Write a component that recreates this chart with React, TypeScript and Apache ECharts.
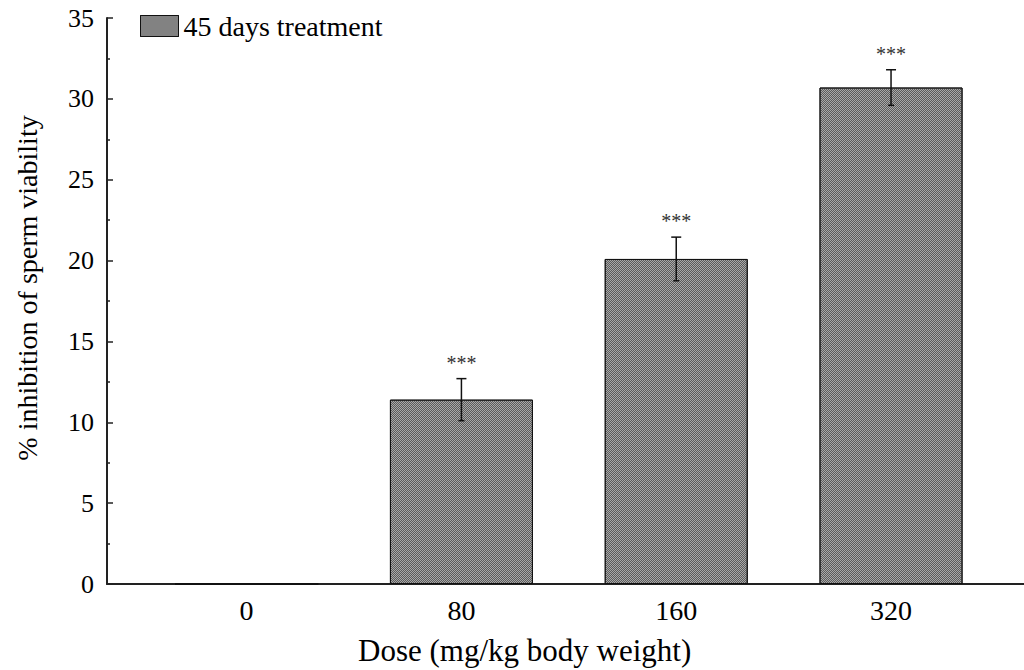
import React, { useEffect, useRef } from "react";
import * as echarts from "echarts";

const doseLabels = ["0", "80", "160", "320"];
const inhibitionMeans = [0, 11.4, 20.1, 30.7];
const inhibitionErrors = [0, 1.3, 1.35, 1.1];
const significance = ["", "***", "***", "***"];
const yTicks = [0, 5, 10, 15, 20, 25, 30, 35];
const seriesName = "45 days treatment";
const xAxisTitle = "Dose (mg/kg body weight)";
const yAxisTitle = "% inhibition of sperm viability";

const FONT = "'Liberation Serif', 'Times New Roman', serif";

export default function App() {
  const ref = useRef<HTMLDivElement>(null);
  useEffect(() => {
    document.body.style.margin = "0";
    if (!ref.current) return;
    const chart = echarts.init(ref.current, undefined, { renderer: "svg" });
    const decal = {
      symbol: "rect",
      symbolSize: 1,
      color: "#5c5c5c",
      dashArrayX: [[1, 1], [0, 1, 1, 0]],
      dashArrayY: [1, 0],
      rotation: 0,
    };
    const barStyle = {
      color: "#a9a9a9",
      borderColor: "#111",
      borderWidth: 1,
      decal,
    };
    chart.setOption({
      animation: false,
      backgroundColor: "#fff",
      textStyle: { fontFamily: FONT, color: "#000" },
      grid: { left: 107, right: 0, top: 18, bottom: 86, containLabel: false },
      legend: {
        left: 135,
        top: 7,
        itemWidth: 38,
        itemHeight: 21,
        itemGap: 10,
        textStyle: { fontFamily: FONT, fontSize: 28, color: "#000", padding: [0, 0, 0, 0] },
        data: [{ name: seriesName, icon: "rect", itemStyle: barStyle }],
      },
      xAxis: {
        type: "value",
        min: -0.65,
        max: 3.619,
        splitLine: { show: false },
        axisLine: { show: true, onZero: false, lineStyle: { color: "#222", width: 2 } },
        axisTick: { show: false },
        axisLabel: {
          customValues: doseLabels.map((_, i) => i),
          formatter: (v: number) => doseLabels[Math.round(v)] ?? "",
          fontFamily: FONT,
          fontSize: 28,
          color: "#000",
          margin: 12,
        },
      },
      yAxis: {
        type: "value",
        min: yTicks[0],
        max: yTicks[yTicks.length - 1],
        interval: 5,
        splitLine: { show: false },
        axisLine: { show: true, onZero: false, lineStyle: { color: "#222", width: 2 } },
        axisTick: { show: true, inside: true, length: 6, lineStyle: { color: "#222", width: 1.5 } },
        minorTick: { show: true, splitNumber: 2, length: 3, lineStyle: { color: "#222", width: 1.5 } },
        axisLabel: { fontFamily: FONT, fontSize: 26, color: "#000", margin: 13 },
      },
      graphic: [
        {
          type: "text",
          left: 358,
          top: 635,
          style: { text: xAxisTitle, font: `31px ${FONT}`, fill: "#000" },
        },
        {
          type: "text",
          x: 27,
          y: 288,
          rotation: Math.PI / 2,
          style: {
            text: yAxisTitle,
            font: `28px ${FONT}`,
            fill: "#000",
            align: "center",
            verticalAlign: "middle",
          },
        },
      ],
      series: [
        {
          name: seriesName,
          type: "bar",
          barWidth: 143,
          z: 2,
          itemStyle: barStyle,
          data: inhibitionMeans.map((v, i) => [i, v]),
        },
        {
          type: "custom",
          silent: true,
          z: 10,
          data: inhibitionMeans.map((v, i) => [i, v, inhibitionErrors[i]]),
          renderItem: (params: any, api: any) => {
            const x = api.value(0);
            const m = api.value(1);
            const e = api.value(2);
            if (!e) return null;
            const top = api.coord([x, m + e]);
            const bot = api.coord([x, m - e]);
            const cx = top[0];
            const st = { stroke: "#111", lineWidth: 1.5 };
            return {
              type: "group",
              children: [
                { type: "line", z2: 10, shape: { x1: cx, y1: top[1], x2: cx, y2: bot[1] }, style: st },
                { type: "line", z2: 10, shape: { x1: cx - 5, y1: top[1], x2: cx + 5, y2: top[1] }, style: st },
                { type: "line", z2: 10, shape: { x1: cx - 3, y1: bot[1], x2: cx + 3, y2: bot[1] }, style: st },
                {
                  type: "text",
                  x: cx,
                  y: top[1] - 6,
                  style: {
                    text: significance[params.dataIndex],
                    font: `20px ${FONT}`,
                    fill: "#333",
                    align: "center",
                    verticalAlign: "bottom",
                  },
                },
              ],
            };
          },
        },
      ],
    });
    return () => chart.dispose();
  }, []);
  return <div ref={ref} style={{ width: 1024, height: 670 }} />;
}
